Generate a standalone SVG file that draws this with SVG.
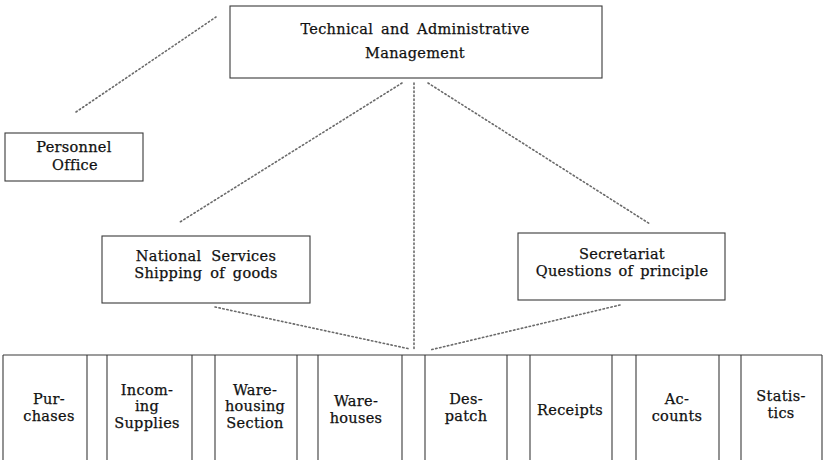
<svg xmlns="http://www.w3.org/2000/svg" width="824" height="460" viewBox="0 0 824 460">
<style>
  .bg { fill: #ffffff; }
  .box { fill: none; stroke: #3a3a3a; stroke-width: 1.1; }
  .div { stroke: #3a3a3a; stroke-width: 1.1; }
  .dot { fill: none; stroke: #6a6a6a; stroke-width: 1.6; stroke-dasharray: 1.4 2.6; stroke-linecap: round; }
  text { font-family: "DejaVu Serif", "Liberation Serif", serif; font-size: 14.5px; letter-spacing: 0.3px; fill: #111111; stroke: #111111; stroke-width: 0.25; text-anchor: middle; }
</style>
<rect class="bg" x="0" y="0" width="824" height="460"/>

<g id="connectors">
  <line class="dot" x1="76" y1="112" x2="216" y2="17"/>
  <line class="dot" x1="402" y1="83" x2="180" y2="222"/>
  <line class="dot" x1="428" y1="83" x2="650" y2="224"/>
  <line class="dot" x1="414" y1="83" x2="414" y2="350"/>
  <line class="dot" x1="215" y1="307" x2="410" y2="349"/>
  <line class="dot" x1="620" y1="305" x2="430" y2="350"/>
</g>

<g id="management">
  <rect class="box" x="230" y="6" width="372" height="72"/>
  <text x="415" y="34" word-spacing="3">Technical and Administrative</text>
  <text x="415" y="58">Management</text>
</g>

<g id="personnel">
  <rect class="box" x="5" y="133" width="138" height="48"/>
  <text x="74" y="152">Personnel</text>
  <text x="75" y="170">Office</text>
</g>

<g id="national">
  <rect class="box" x="102" y="236" width="208" height="67"/>
  <text x="206" y="261" word-spacing="5">National Services</text>
  <text x="206" y="278" word-spacing="3">Shipping of goods</text>
</g>

<g id="secretariat">
  <rect class="box" x="518" y="233" width="207" height="67"/>
  <text x="622" y="259">Secretariat</text>
  <text x="622" y="276" word-spacing="2">Questions of principle</text>
</g>

<g id="departments">
  <line class="div" x1="3" y1="355" x2="822" y2="355"/>
  <line class="div" x1="3" y1="355" x2="3" y2="460"/>
  <line class="div" x1="822" y1="355" x2="822" y2="460"/>
  <line class="div" x1="87" y1="355" x2="87" y2="460"/>
  <line class="div" x1="107" y1="355" x2="107" y2="460"/>
  <line class="div" x1="192" y1="355" x2="192" y2="460"/>
  <line class="div" x1="215" y1="355" x2="215" y2="460"/>
  <line class="div" x1="297" y1="355" x2="297" y2="460"/>
  <line class="div" x1="318" y1="355" x2="318" y2="460"/>
  <line class="div" x1="402" y1="355" x2="402" y2="460"/>
  <line class="div" x1="425" y1="355" x2="425" y2="460"/>
  <line class="div" x1="507" y1="355" x2="507" y2="460"/>
  <line class="div" x1="530" y1="355" x2="530" y2="460"/>
  <line class="div" x1="612" y1="355" x2="612" y2="460"/>
  <line class="div" x1="636" y1="355" x2="636" y2="460"/>
  <line class="div" x1="719" y1="355" x2="719" y2="460"/>
  <line class="div" x1="741" y1="355" x2="741" y2="460"/>
</g>

<g id="purchases">
  <text x="49" y="404">Pur-</text>
  <text x="49" y="421">chases</text>
</g>
<g id="incoming">
  <text x="147" y="395">Incom-</text>
  <text x="147" y="411">ing</text>
  <text x="147" y="428">Supplies</text>
</g>
<g id="warehousing">
  <text x="255" y="395">Ware-</text>
  <text x="255" y="411">housing</text>
  <text x="255" y="428">Section</text>
</g>
<g id="warehouses">
  <text x="356" y="406">Ware-</text>
  <text x="356" y="423">houses</text>
</g>
<g id="despatch">
  <text x="466" y="404">Des-</text>
  <text x="466" y="421">patch</text>
</g>
<g id="receipts">
  <text x="570" y="415">Receipts</text>
</g>
<g id="accounts">
  <text x="677" y="404">Ac-</text>
  <text x="677" y="421">counts</text>
</g>
<g id="statistics">
  <text x="781" y="401">Statis-</text>
  <text x="781" y="418">tics</text>
</g>
</svg>
